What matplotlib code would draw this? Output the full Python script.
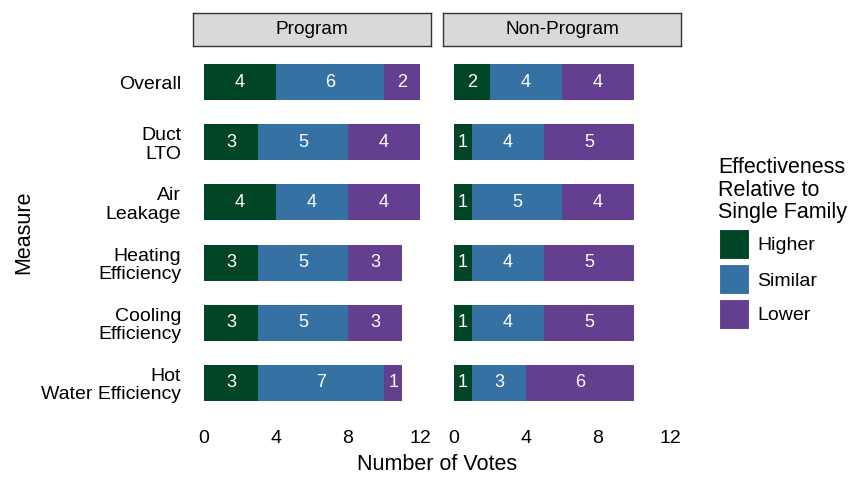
import matplotlib
matplotlib.use("Agg")
import matplotlib.pyplot as plt
from matplotlib.patches import Rectangle

plt.rcParams['font.family'] = ['Liberation Sans', 'DejaVu Sans']

measures = ["Overall", "Duct\nLTO", "Air\nLeakage", "Heating\nEfficiency",
            "Cooling\nEfficiency", "Hot\nWater Efficiency"]
panels = ["Program", "Non-Program"]
levels = ["Higher", "Similar", "Lower"]
colors = ["#004526", "#3571A3", "#643E8F"]

program_higher = [4, 3, 4, 3, 3, 3]
program_similar = [6, 5, 4, 5, 5, 7]
program_lower = [2, 4, 4, 3, 3, 1]
nonprog_higher = [2, 1, 1, 1, 1, 1]
nonprog_similar = [4, 4, 5, 4, 4, 3]
nonprog_lower = [4, 5, 4, 5, 5, 6]

data = {
    "Program": [program_higher, program_similar, program_lower],
    "Non-Program": [nonprog_higher, nonprog_similar, nonprog_lower],
}
xticks = [0, 4, 8, 12]

W, H = 851, 478
fig = plt.figure(figsize=(W / 100, H / 100), dpi=100)

def fx(px):
    return px / W

def fy(py):
    return 1 - py / H

panel_left = [193, 443]
panel_w = 238
top, bottom = 46, 419

ypos = list(range(len(measures)))
for i, name in enumerate(panels):
    ax = fig.add_axes([fx(panel_left[i]), fy(bottom), panel_w / W, (bottom - top) / H])
    left = [0] * len(measures)
    for series, col in zip(data[name], colors):
        ax.barh(ypos, series, left=left, height=0.6, color=col, edgecolor='none')
        for y, (l, v) in enumerate(zip(left, series)):
            ax.text(l + v / 2, y, str(v), color='white', ha='center', va='center', fontsize=13)
        left = [a + b for a, b in zip(left, series)]
    ax.set_xlim(-0.6, 12.6)
    ax.set_ylim(len(measures) - 0.4, -0.6)
    ax.set_xticks(xticks)
    ax.set_xticklabels([str(t) for t in xticks], fontsize=14)
    ax.tick_params(length=0, pad=8)
    ax.set_yticks(ypos)
    if i == 0:
        ax.set_yticklabels(measures, fontsize=14, linespacing=1.12)
        ax.tick_params(axis='y', pad=8.5)
    else:
        ax.set_yticklabels([])
    for s in ax.spines.values():
        s.set_visible(False)
    # strip
    sax = fig.add_axes([fx(panel_left[i]), fy(top), panel_w / W, 33 / H])
    sax.set_facecolor('#D9D9D9')
    sax.set_xticks([]); sax.set_yticks([])
    for s in sax.spines.values():
        s.set_color('#333333'); s.set_linewidth(1.0)
    sax.text(0.5, 0.5, name, ha='center', va='center', fontsize=13.7, transform=sax.transAxes)

fig.text(fx(437), fy(465), "Number of Votes", ha='center', va='center', fontsize=15.5)
fig.text(fx(24), fy(232), "Measure", ha='center', va='center', rotation=90, fontsize=15.5)

# legend
fig.text(fx(718), fy(190), "Effectiveness\nRelative to\nSingle Family", ha='left', va='center',
         fontsize=15.5, linespacing=1.1)
for k, (lab, col) in enumerate(zip(levels, colors)):
    y0 = 229 + k * 35
    fig.add_artist(Rectangle((fx(719), fy(y0 + 30)), 30 / W, 30 / H, transform=fig.transFigure,
                             facecolor=col, edgecolor='white', linewidth=0.8))
    fig.text(fx(757), fy(y0 + 17), lab, ha='left', va='center', fontsize=14)

fig.savefig("out.png", dpi=100)
